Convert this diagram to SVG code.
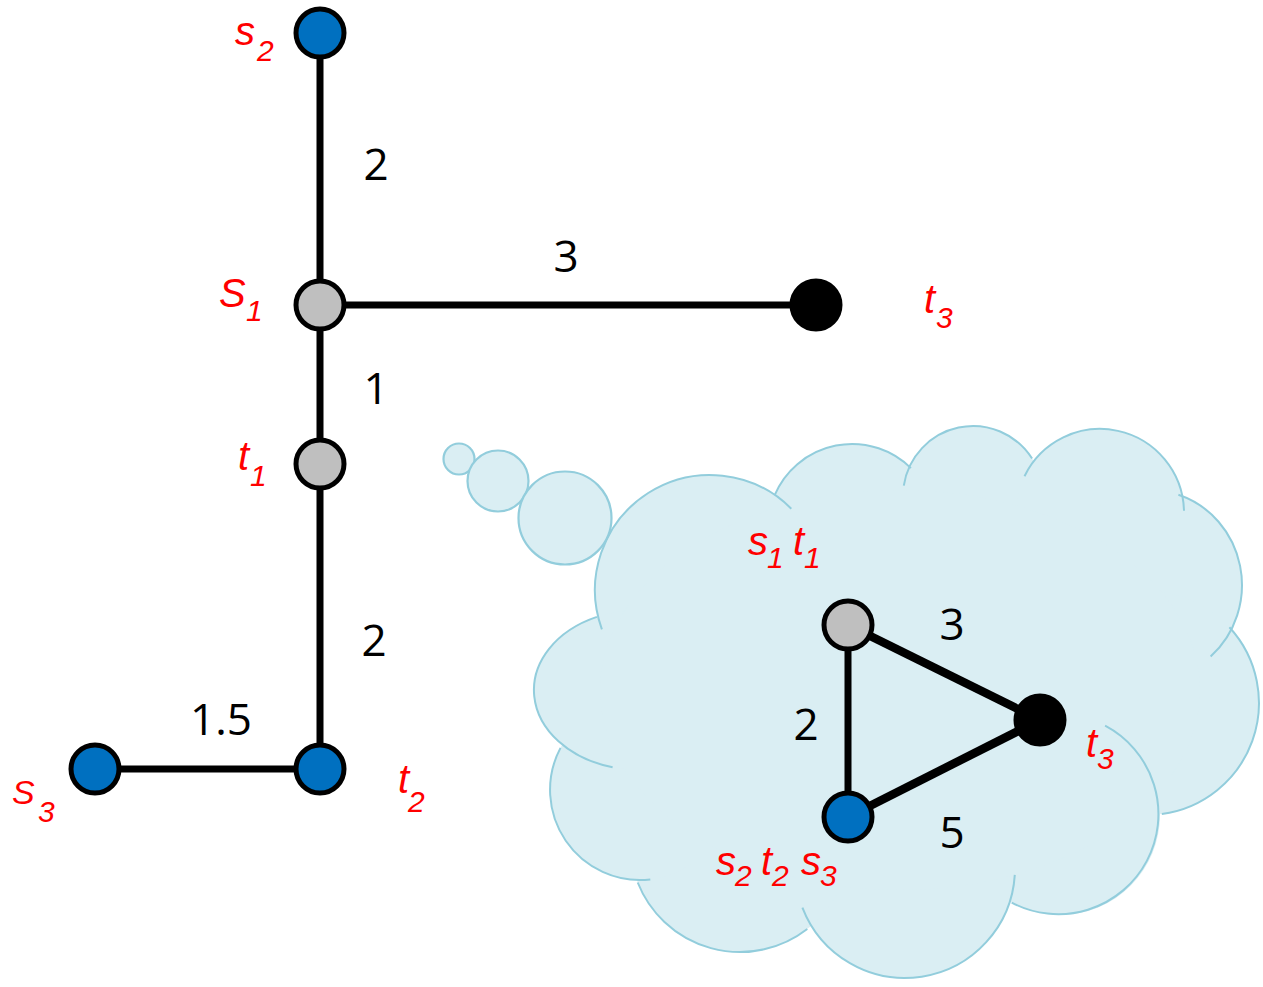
<svg xmlns="http://www.w3.org/2000/svg" width="1263" height="987" viewBox="0 0 1263 987">
<style>
.cf{fill:#DAEEF3;stroke:none}
.cs{fill:none;stroke:#92CDDC;stroke-width:2}
.bub{fill:#DAEEF3;stroke:#92CDDC;stroke-width:2.2}
.e{stroke:#000;stroke-width:7;fill:none}
.e2{stroke:#000;stroke-width:8.5;fill:none}
.n{stroke:#000;stroke-width:5}
.blue{fill:#0070C0}
.gray{fill:#BFBFBF}
.blk{fill:#000}
.lbl{font-family:"Liberation Sans",Arial,sans-serif;font-style:italic;fill:#FF0000;font-size:40px}
.sub{font-size:30px}
.num{font-family:"Open Sans","Liberation Sans",sans-serif;font-size:44px;fill:#000;text-anchor:middle}
</style>
<rect width="1263" height="987" fill="#fff"/>
<g id="cloud">
<circle class="cf" cx="710" cy="590" r="115"/>
<circle class="cf" cx="852" cy="528" r="84"/>
<circle class="cf" cx="973" cy="496" r="70"/>
<circle class="cf" cx="1100" cy="513" r="84"/>
<ellipse class="cf" cx="1150" cy="585" rx="92" ry="95"/>
<circle class="cf" cx="1147" cy="703" r="112"/>
<circle class="cf" cx="1060" cy="815" r="100"/>
<circle class="cf" cx="905" cy="868" r="110"/>
<circle class="cf" cx="740" cy="842" r="110"/>
<circle class="cf" cx="640" cy="790" r="90"/>
<ellipse class="cf" cx="640" cy="690" rx="106" ry="80"/>
<ellipse class="cf" cx="900" cy="690" rx="300" ry="200"/>
<path class="cs" d="M601.9,629.3 A115,115 0 0 1 791.3,508.7"/>
<path class="cs" d="M774.9,494.6 A84,84 0 0 1 910.9,468.1"/>
<path class="cs" d="M903.8,485.7 A70,70 0 0 1 1032.1,458.5"/>
<path class="cs" d="M1024.5,476.2 A84,84 0 0 1 1184,510.8"/>
<path class="cs" d="M1178.4,494.7 A92,95 0 0 1 1210.6,656.5"/>
<path class="cs" d="M1229.4,627.2 A112,112 0 0 1 1161.8,814"/>
<path class="cs" d="M1105.1,725.7 A100,100 0 1 1 1011.7,902.6"/>
<path class="cs" d="M1014.8,874.9 A110,110 0 0 1 802.4,907.6"/>
<path class="cs" d="M807.3,929 A110,110 0 0 1 637.7,882.5"/>
<path class="cs" d="M650.3,879.4 A90,90 0 0 1 560.5,747.9"/>
<path class="cs" d="M612.6,767.3 A106,80 0 0 1 596.9,616.9"/>
<circle class="bub" cx="459" cy="459" r="15.5"/>
<circle class="bub" cx="498" cy="481" r="30.5"/>
<circle class="bub" cx="565" cy="518" r="46.5"/>
</g>
<g id="connectors">
<line class="e" x1="320" y1="33" x2="320" y2="305"/>
<line class="e" x1="320" y1="305" x2="816" y2="305"/>
<line class="e" x1="320" y1="305" x2="320" y2="464"/>
<line class="e" x1="320" y1="464" x2="320" y2="769"/>
<line class="e" x1="95" y1="769" x2="320" y2="769"/>
<line class="e" x1="848" y1="625" x2="848" y2="817"/>
<line class="e2" x1="848" y1="625" x2="1040" y2="720"/>
<line class="e2" x1="848" y1="817" x2="1040" y2="720"/>
</g>
<g id="edge-labels">
<text class="num" x="376" y="180">2</text>
<text class="num" x="566" y="272">3</text>
<text class="num" x="376" y="404">1</text>
<text class="num" x="374" y="656">2</text>
<text class="num" x="221" y="735">1.5</text>
<text class="num" x="952" y="640">3</text>
<text class="num" x="806" y="740">2</text>
<text class="num" x="952" y="848">5</text>
</g>
<g id="node-s2"><circle class="n blue" cx="320" cy="33" r="24"/><text class="lbl" x="235" y="45">s<tspan class="sub" x="257" y="61">2</tspan></text></g>
<g id="node-S1"><circle class="n gray" cx="320" cy="305" r="24"/><text class="lbl" x="219" y="307">S<tspan class="sub" x="246" y="321">1</tspan></text></g>
<g id="node-t3"><circle class="n blk" cx="816" cy="305" r="24"/><text class="lbl" x="924" y="313">t<tspan class="sub" x="936" y="328">3</tspan></text></g>
<g id="node-t1"><circle class="n gray" cx="320" cy="464" r="24"/><text class="lbl" x="238" y="470">t<tspan class="sub" x="250" y="486">1</tspan></text></g>
<g id="node-t2"><circle class="n blue" cx="320" cy="769" r="24"/><text class="lbl" x="398" y="793">t<tspan class="sub" x="408" y="812">2</tspan></text></g>
<g id="node-S3"><circle class="n blue" cx="95" cy="769" r="24"/><text class="lbl" x="12" y="804" style="font-size:34px">S<tspan class="sub" x="38" y="822">3</tspan></text></g>
<g id="node-s1t1"><circle class="n gray" cx="848" cy="625" r="24"/><text class="lbl" x="748" y="555">s<tspan class="sub" x="767" y="568">1</tspan><tspan x="793" y="555">t</tspan><tspan class="sub" x="804" y="568">1</tspan></text></g>
<g id="node-t3b"><circle class="n blk" cx="1040" cy="720" r="24"/><text class="lbl" x="1086" y="757">t<tspan class="sub" x="1097" y="769">3</tspan></text></g>
<g id="node-s2t2s3"><circle class="n blue" cx="848" cy="817" r="24"/><text class="lbl" x="716" y="875">s<tspan class="sub" x="735" y="886">2</tspan><tspan x="761" y="875">t</tspan><tspan class="sub" x="772" y="886">2</tspan><tspan x="801" y="875">s</tspan><tspan class="sub" x="820" y="886">3</tspan></text></g>
</svg>
